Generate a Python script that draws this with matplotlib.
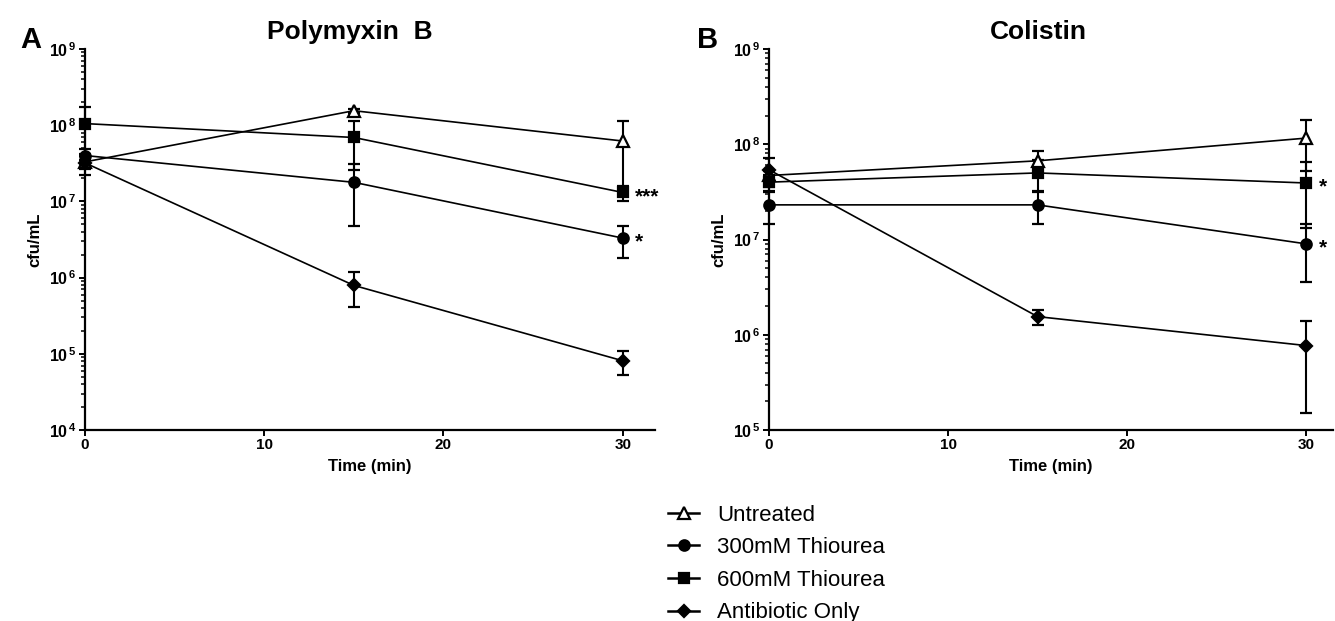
import matplotlib
matplotlib.use("Agg")
import matplotlib.pyplot as plt
import numpy as np
from matplotlib.lines import Line2D
from matplotlib.ticker import FuncFormatter, LogLocator, FixedLocator

plt.rcParams["font.family"] = ["Liberation Sans", "DejaVu Sans"]
plt.rcParams["mathtext.fontset"] = "custom"
plt.rcParams["mathtext.rm"] = "Liberation Sans"
plt.rcParams["mathtext.bf"] = "Liberation Sans:bold"

# ---- data (cfu/mL, mean and SD) -------------------------------------
time_min = [0, 15, 30]
series_labels = ["Untreated", "300mM Thiourea", "600mM Thiourea", "Antibiotic Only"]

pmb_untreated = [3.3e7, 1.55e8, 6.2e7]
pmb_untreated_sd = [0.6e7, 1.0e7, 5.0e7]
pmb_thio300 = [4.0e7, 1.78e7, 3.3e6]
pmb_thio300_sd = [0.8e7, 1.3e7, 1.5e6]
pmb_thio600 = [1.05e8, 6.9e7, 1.31e7]
pmb_thio600_sd = [7.0e7, 4.3e7, 0.29e7]
pmb_abx_only = [3.2e7, 7.9e5, 8.1e4]
pmb_abx_only_sd = [1.0e7, 3.8e5, 2.8e4]

col_untreated = [4.7e7, 6.7e7, 1.16e8]
col_untreated_sd = [0.5e7, 1.7e7, 6.4e7]
col_thio300 = [2.31e7, 2.31e7, 9.0e6]
col_thio300_sd = [0.85e7, 0.85e7, 5.4e6]
col_thio600 = [4.0e7, 5.0e7, 3.92e7]
col_thio600_sd = [0.8e7, 1.8e7, 2.6e7]
col_abx_only = [5.4e7, 1.55e6, 7.7e5]
col_abx_only_sd = [1.8e7, 0.28e6, 6.2e5]

# significance marks at t=30, next to the thiourea series
pmb_stars = [("***", pmb_thio600[2]), ("*", pmb_thio300[2])]
col_stars = [("*", col_thio600[2]), ("*", col_thio300[2])]

# marker style per series: (marker, size, facecolor)
styles = [("^", 8.5, "white"), ("o", 7.5, "black"), ("s", 7, "black"), ("D", 6.5, "black")]


def draw_panel(ax, series, stars, ylim, xmax, title, title_x, letter, letter_x):
    for (mean, sd), (mk, ms, fc) in zip(series, styles):
        cont = ax.errorbar(time_min, mean, yerr=sd, fmt="-", color="black",
                           marker=mk, ms=ms, mfc=fc, mec="black", mew=1.6,
                           lw=1.2, elinewidth=1.5, capsize=4.2, capthick=1.5)
        for art in cont.get_children():
            art.set_clip_on(False)
    ax.set_yscale("log")
    ax.set_ylim(*ylim)
    ax.set_xlim(0, xmax)
    ax.xaxis.set_major_locator(FixedLocator([0, 10, 20, 30]))
    ax.yaxis.set_major_locator(LogLocator(base=10))
    ax.yaxis.set_minor_locator(LogLocator(base=10, subs=np.arange(2, 10)))
    ax.yaxis.set_minor_formatter(plt.NullFormatter())
    ax.yaxis.set_major_formatter(FuncFormatter(
        lambda v, p: r"$\mathbf{10^{\,%d}}$" % round(np.log10(v))))
    for s in ("top", "right"):
        ax.spines[s].set_visible(False)
    for s in ("left", "bottom"):
        ax.spines[s].set_linewidth(1.6)
    ax.tick_params(axis="both", which="major", direction="out", length=4,
                   width=1.4, labelsize=11, pad=2)
    ax.tick_params(axis="y", which="major", labelsize=11.5)
    ax.tick_params(axis="y", which="minor", direction="out", length=3, width=1.1)
    for lbl in ax.get_xticklabels():
        lbl.set_fontweight("bold")
    ax.set_xlabel("Time (min)", fontsize=12, fontweight="bold")
    ax.set_ylabel("cfu/mL", fontsize=12, fontweight="bold")
    ax.xaxis.set_label_coords(0.5, -0.075)
    ax.yaxis.set_label_coords(-0.075, 0.5)
    for txt, yv in stars:
        ax.annotate(txt, xy=(30, yv), xytext=(9, -3), textcoords="offset points",
                    ha="left", va="center", fontsize=15, fontweight="bold",
                    annotation_clip=False)
    fig = ax.figure
    fig.text(title_x, 1 - 39 / 621, title, ha="center", va="baseline",
             fontsize=19, fontweight="bold")
    fig.text(letter_x, 1 - 48 / 621, letter, ha="center", va="baseline",
             fontsize=21, fontweight="bold")


W, H = 1335, 621
fig = plt.figure(figsize=(W / 100, H / 100), dpi=100)
axA = fig.add_axes([85 / W, 1 - 430 / H, 570 / W, 381 / H])
axB = fig.add_axes([769 / W, 1 - 430 / H, 564 / W, 381 / H])

draw_panel(axA,
           [(pmb_untreated, pmb_untreated_sd), (pmb_thio300, pmb_thio300_sd),
            (pmb_thio600, pmb_thio600_sd), (pmb_abx_only, pmb_abx_only_sd)],
           pmb_stars, (1e4, 1e9), 31.8, "Polymyxin  B", 350 / W, "A", 31 / W)
draw_panel(axB,
           [(col_untreated, col_untreated_sd), (col_thio300, col_thio300_sd),
            (col_thio600, col_thio600_sd), (col_abx_only, col_abx_only_sd)],
           col_stars, (1e5, 1e9), 31.5, "Colistin", 1038 / W, "B", 708 / W)

handles = [Line2D([], [], color="black", lw=1.8, marker=mk, ms=ms, mfc=fc,
                  mec="black", mew=1.6) for mk, ms, fc in styles]
fig.legend(handles, series_labels, loc="center left",
           bbox_to_anchor=(668 / W, 1 - 564 / H), frameon=False, fontsize=16,
           handlelength=1.4, handletextpad=0.8, labelspacing=0.52,
           borderpad=0, borderaxespad=0)

fig.savefig("out.png", dpi=100)
